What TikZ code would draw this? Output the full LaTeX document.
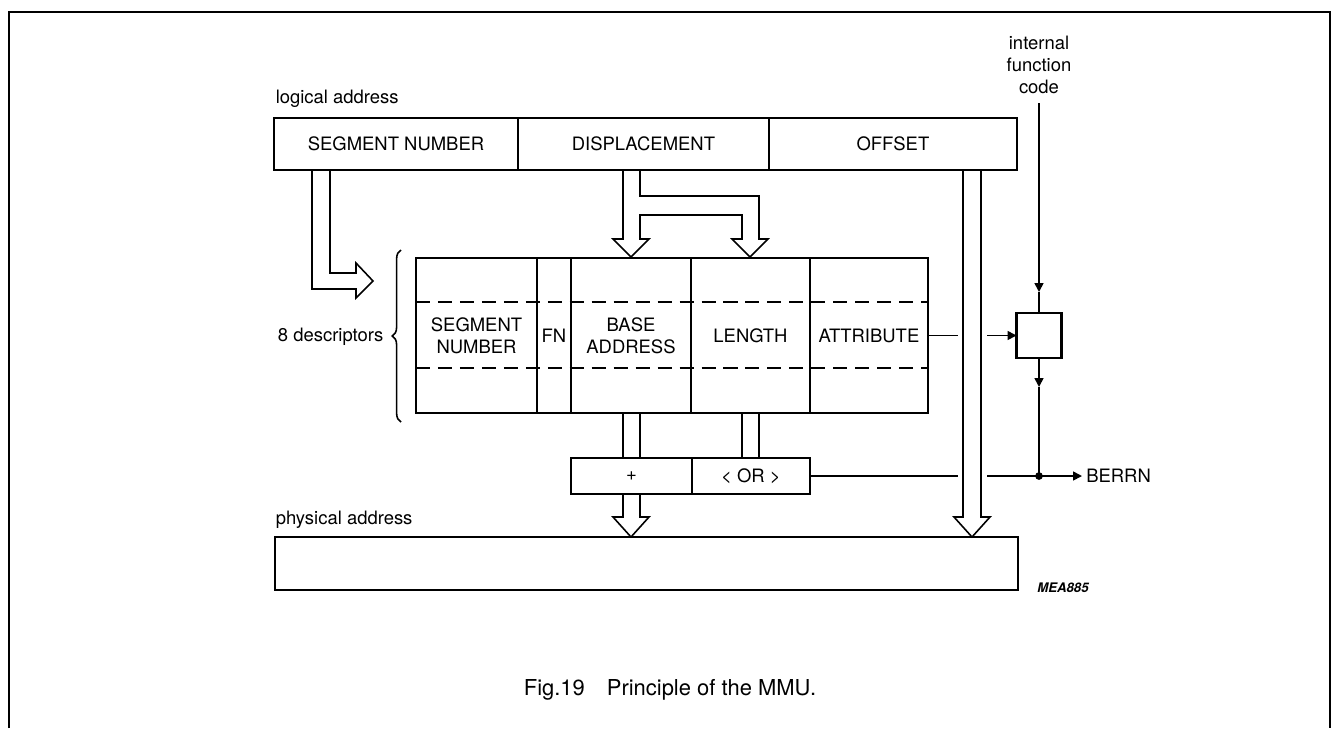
\documentclass[tikz,border=0pt]{standalone}
\usepackage{fontspec}
\setmainfont{TeX Gyre Heros}
\usetikzlibrary{positioning,arrows.meta,decorations.pathreplacing}

\begin{document}
\begin{tikzpicture}
      [x=0.02cm, y=-0.02cm, line width=0.9pt,
       lbl/.style={font=\fontsize{10.5}{12.6}\selectfont},
       addr box/.style={draw, rectangle, line width=1.4pt, inner sep=0pt, outer sep=0pt, minimum height=1.04cm, lbl},
       desc col/.style={draw, rectangle, line width=1.4pt, inner sep=0pt, outer sep=0pt, minimum height=3.1cm, align=center, lbl},
       op box/.style={draw, rectangle, line width=1.4pt, inner sep=0pt, outer sep=0pt, minimum height=0.72cm, lbl},
       sig/.style={-{Triangle[length=5pt,width=5pt]}}]
      \useasboundingbox (0,0) rectangle (1333,728);
      \draw[line width=1.4pt] (9,728) -- (9,12) -- (1330,12) -- (1330,728);

      \node[lbl, anchor=west, inner sep=0pt] (logical) at (275,99) {logical address};
      \node[addr box, minimum width=4.88cm] (seg) at (396,144) {SEGMENT NUMBER};
      \node[addr box, minimum width=5.02cm, right=0pt of seg] (disp) {DISPLACEMENT};
      \node[addr box, minimum width=4.96cm, right=0pt of disp] (off) {OFFSET};

      \node[lbl, align=center] (fcode) at (1039,65) {internal\\function\\code};

      \node[desc col, minimum width=2.42cm] (dseg) at (476.5,335.5) {SEGMENT\\NUMBER};
      \node[desc col, minimum width=0.68cm, right=0pt of dseg] (fn) {FN};
      \node[desc col, minimum width=2.40cm, right=0pt of fn] (base) {BASE\\ADDRESS};
      \node[desc col, minimum width=2.38cm, right=0pt of base] (len) {LENGTH};
      \node[desc col, minimum width=2.36cm, right=0pt of len] (attr) {ATTRIBUTE};
      \draw[dash pattern=on 8pt off 4.5pt] (416,302) -- (928,302);
      \draw[dash pattern=on 8pt off 4.5pt] (416,368) -- (928,368);

      \draw[decorate, decoration={brace, amplitude=5pt}] (401,422) -- (401,250);
      \node[lbl, anchor=east] (ndesc) at (390,337) {8 descriptors};

      \draw (312,170) -- (312,289) -- (356,289) -- (356,298) -- (373,281)
            -- (356,263) -- (356,273) -- (330,273) -- (330,170);
      \draw (623,170) -- (623,239) -- (613,239) -- (631,257) -- (649,239)
            -- (640,239) -- (640,215) -- (742,215) -- (742,239) -- (732,239)
            -- (750,257) -- (768,239) -- (759,239) -- (759,196) -- (640,196)
            -- (640,170);
      \draw (963,170) -- (963,517) -- (954,517) -- (972,537) -- (990,517)
            -- (981,517) -- (981,170);

      \node[op box, minimum width=2.42cm] (sum) at (631.5,476) {+};
      \node[op box, minimum width=2.36cm, right=0pt of sum] (orbox) {< OR >};
      \draw (623,413) -- (623,458);
      \draw (640,413) -- (640,458);
      \draw (742,413) -- (742,458);
      \draw (759,413) -- (759,458);
      \draw (623,494) -- (623,517) -- (613,517) -- (631,537) -- (649,517)
            -- (640,517) -- (640,494);

      \node[lbl, anchor=west, inner sep=0pt] (physical) at (275,520) {physical address};
      \node[addr box, minimum width=14.86cm, minimum height=1.06cm] (phys) at (646.5,563.5) {};

      \node[draw, line width=1.6pt, minimum size=0.9cm, inner sep=0pt, outer sep=0pt] (fbox) at (1039,335.5) {};
      \coordinate (ftop) at (1039,103);
      \coordinate (fin) at (1039,292);
      \coordinate (fout) at (1039,387);
      \coordinate (jn) at (1039,476);
      \coordinate (agl) at (958,335.5);
      \coordinate (agr) at (987,335.5);
      \coordinate (bgl) at (958,476);
      \coordinate (bgr) at (987,476);
      \node[lbl, anchor=west, inner sep=2pt] (berrn) at (1082,476) {BERRN};

      \draw[sig] (ftop) -- (fin);
      \draw (fin) -- (fbox.north);
      \draw[sig] (fbox.south) -- (fout);
      \draw (fout) -- (jn);
      \draw (attr.east) -- (agl);
      \draw[sig] (agr) -- (fbox.west);
      \draw (orbox.east) -- (bgl);
      \draw (bgr) -- (jn);
      \draw[sig] (jn) -- (berrn);
      \fill (jn) circle (2.2pt);

      \node[font=\fontsize{7.5}{9}\selectfont\bfseries\itshape] (mea) at (1063,588) {MEA885};
      \node[font=\fontsize{12.5}{15}\selectfont] (caption) at (670,690) {Fig.19\hspace{1em}Principle of the MMU.};
\end{tikzpicture}
\end{document}
